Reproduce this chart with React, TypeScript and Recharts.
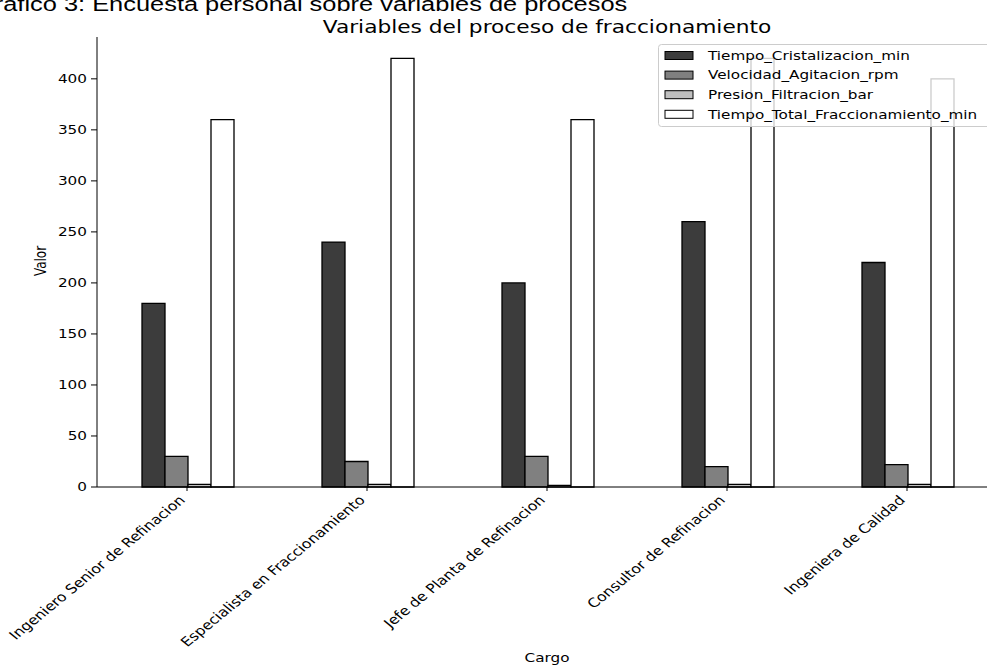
import React from 'react'
import { BarChart, Bar, XAxis, YAxis } from 'recharts'

// values
const CARGOS = [
  'Ingeniero Senior de Refinacion',
  'Especialista en Fraccionamiento',
  'Jefe de Planta de Refinacion',
  'Consultor de Refinacion',
  'Ingeniera de Calidad',
]
const TIEMPO_CRISTALIZACION = [180, 240, 200, 260, 220]
const VELOCIDAD_AGITACION = [30, 25, 30, 20, 22]
const PRESION_FILTRACION = [2.5, 2.5, 1.5, 2.5, 2.5]
const TIEMPO_TOTAL = [360, 420, 360, 420, 400]
const Y_TICKS = [0, 50, 100, 150, 200, 250, 300, 350, 400]

const SERIES = [
  { key: 'Tiempo_Cristalizacion_min', values: TIEMPO_CRISTALIZACION, color: '#3c3c3c' },
  { key: 'Velocidad_Agitacion_rpm', values: VELOCIDAD_AGITACION, color: '#808080' },
  { key: 'Presion_Filtracion_bar', values: PRESION_FILTRACION, color: '#bfbfbf' },
  { key: 'Tiempo_Total_Fraccionamiento_min', values: TIEMPO_TOTAL, color: '#ffffff' },
]

const data = CARGOS.map((cargo, i) => {
  const row: Record<string, string | number> = { cargo }
  SERIES.forEach((s) => {
    row[s.key] = s.values[i]
  })
  return row
})

// the reference image is stretched horizontally
const SX = 1.27
const FONT = '"DejaVu Sans", sans-serif'
const FS = 12

function XTick({ x, payload }: any) {
  return (
    <text
      transform={`translate(${x - 1},${501}) scale(1.22,1) rotate(-45)`}
      textAnchor="end"
      fontSize={12.9}
      fontFamily={FONT}
      fill="#000"
    >
      {payload.value}
    </text>
  )
}

function YTick({ y, payload }: any) {
  return (
    <text
      transform={`translate(87,${y}) scale(${SX},1)`}
      textAnchor="end"
      dy="0.36em"
      fontSize={FS}
      fontFamily={FONT}
      fill="#000"
    >
      {payload.value}
    </text>
  )
}

function LegendBox() {
  return (
    <g transform="translate(658,44)">
      <rect x={0.5} y={0.5} width={348} height={82} rx={3} fill="#fff" fillOpacity={0.8} stroke="#cccccc" />
      {SERIES.map((s, i) => {
        const cy = 11.5 + i * 19.6
        return (
          <g key={s.key}>
            <rect x={7} y={cy - 4} width={28} height={8} fill={s.color} stroke="#000" strokeWidth={1} />
            <text
              transform={`translate(50,${cy}) scale(${SX},1)`}
              dy="0.36em"
              fontSize={FS}
              fontFamily={FONT}
              fill="#000"
            >
              {s.key}
            </text>
          </g>
        )
      })}
    </g>
  )
}

export default function App() {
  return (
    <div
      style={{
        position: 'absolute',
        left: 0,
        top: 0,
        width: 987,
        height: 667,
        overflow: 'hidden',
        background: '#fff',
      }}
    >
      <BarChart
        width={1000}
        height={667}
        data={data}
        margin={{ top: 37, right: 3, bottom: 0, left: 0 }}
        barCategoryGap="25%"
        barGap={0}
      >
        <XAxis
          dataKey="cargo"
          interval={0}
          height={180}
          tickSize={4}
          stroke="#000"
          tick={<XTick />}
          label={() => (
            <text
              transform={`translate(547,662) scale(${SX},1)`}
              textAnchor="middle"
              fontSize={FS}
              fontFamily={FONT}
              fill="#000"
            >
              Cargo
            </text>
          )}
        />
        <XAxis
          xAxisId="top"
          dataKey="cargo"
          orientation="top"
          height={0}
          tick={false}
          tickLine={false}
          stroke="#000"
        />
        <YAxis
          domain={[0, 441]}
          ticks={Y_TICKS}
          width={97}
          tickSize={6}
          stroke="#000"
          tick={<YTick />}
          label={() => (
            <text
              transform={`translate(46,261) scale(${SX},1) rotate(-90)`}
              textAnchor="middle"
              fontSize={FS}
              fontFamily={FONT}
              fill="#000"
            >
              Valor
            </text>
          )}
        />
        {SERIES.map((s) => (
          <Bar
            key={s.key}
            dataKey={s.key}
            fill={s.color}
            stroke="#000"
            strokeWidth={1.3}
            isAnimationActive={false}
          />
        ))}
      </BarChart>
      <svg
        width={987}
        height={667}
        style={{ position: 'absolute', left: 0, top: 0, pointerEvents: 'none' }}
      >
        <text
          transform={`translate(-25,10.5) scale(${SX},1)`}
          fontSize={20}
          fontFamily='"Liberation Sans", Arial, sans-serif'
          fill="#000"
        >
          Gráfico 3: Encuesta personal sobre variables de procesos
        </text>
        <text
          transform={`translate(547,32.5) scale(${SX},1)`}
          textAnchor="middle"
          fontSize={17.1}
          fontFamily={FONT}
          fill="#000"
        >
          Variables del proceso de fraccionamiento
        </text>
        <LegendBox />
      </svg>
    </div>
  )
}
